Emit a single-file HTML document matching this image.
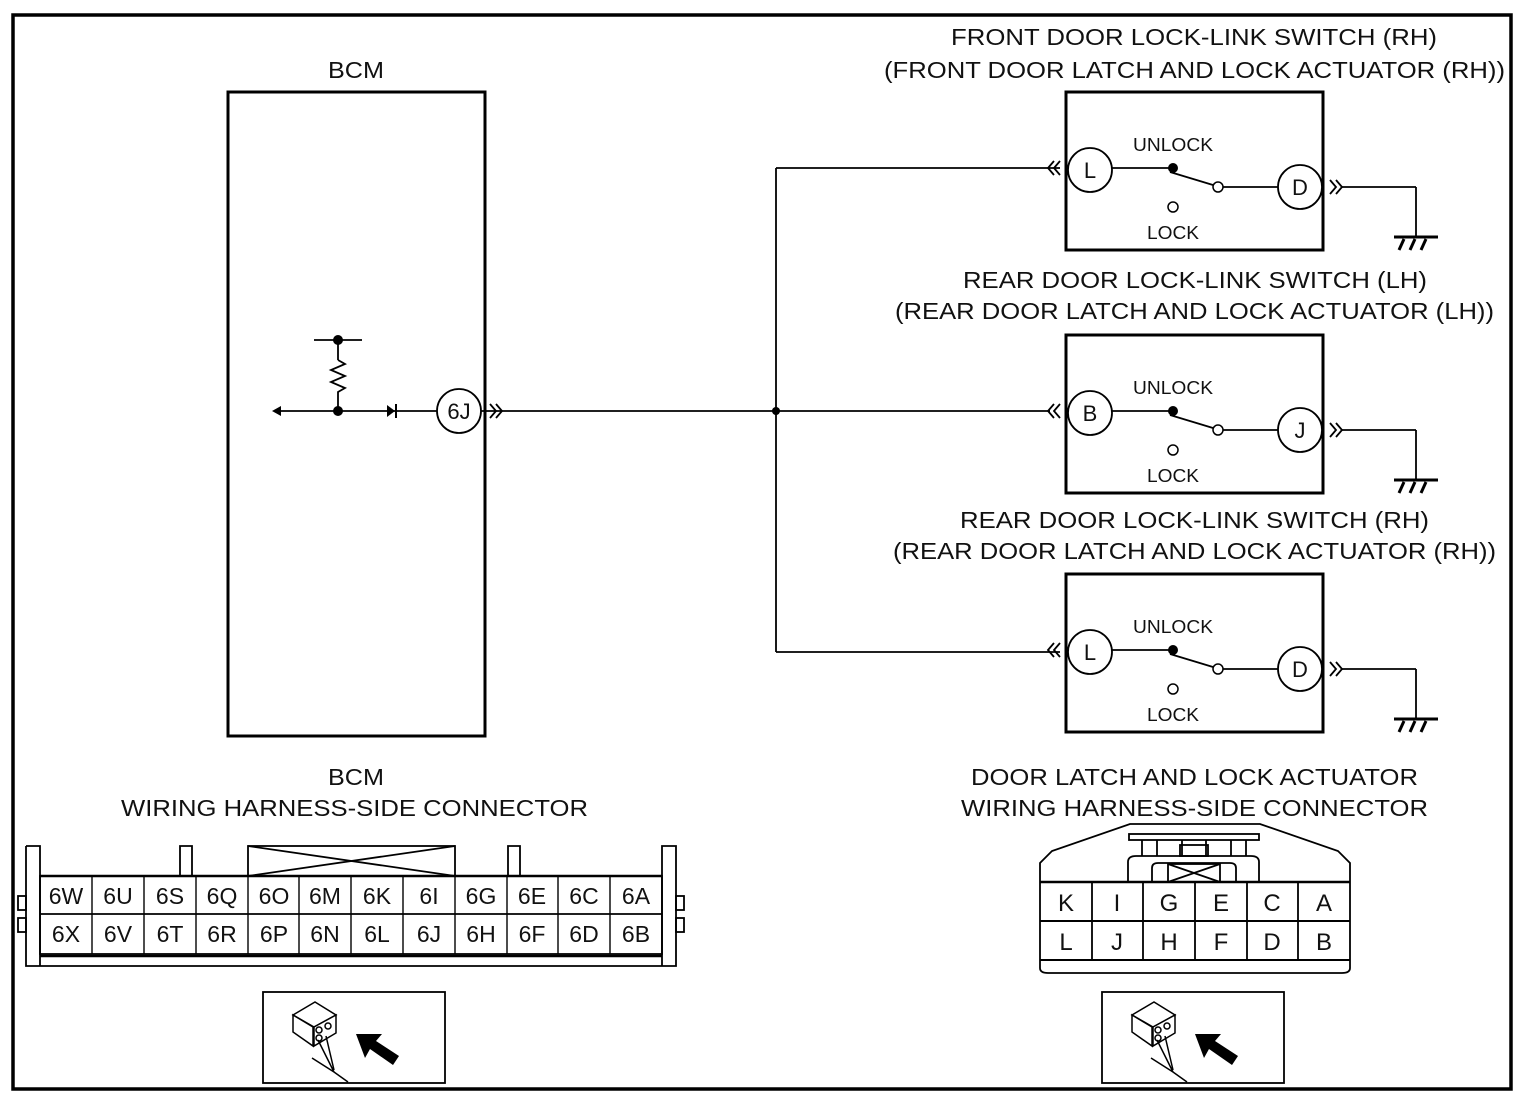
<!DOCTYPE html>
<html><head><meta charset="utf-8"><style>
html,body{margin:0;padding:0;background:#fff}
svg{display:block}
text{font-family:"Liberation Sans",Arial,sans-serif;fill:#111}
</style></head><body>
<svg width="1526" height="1102" viewBox="0 0 1526 1102" xmlns="http://www.w3.org/2000/svg">
<rect x="13" y="15" width="1498" height="1074" fill="none" stroke="#000" stroke-width="3.5"/>

<!-- BCM -->
<text x="328" y="78" font-size="23" textLength="56" lengthAdjust="spacingAndGlyphs">BCM</text>
<rect x="228" y="92" width="257" height="644" fill="none" stroke="#000" stroke-width="3"/>
<g stroke="#000" stroke-width="1.8" fill="none">
<line x1="278" y1="411" x2="437" y2="411"/>
<line x1="338" y1="340" x2="338" y2="360"/>
<polyline points="338,360 345,364 331,370 345,376 331,382 345,388 338,392 338,411"/>
<line x1="314" y1="340" x2="362" y2="340"/>
<line x1="481" y1="411" x2="1050" y2="411"/>
<line x1="776" y1="168" x2="776" y2="652"/>
<line x1="776" y1="168" x2="1060" y2="168"/>
<line x1="776" y1="652" x2="1060" y2="652"/>
<path d="M490,404 l6,7 l-6,7 M496,404 l6,7 l-6,7"/>
</g>
<polygon points="272,411 281,406 281,416" fill="#000"/>
<circle cx="338" cy="340" r="5" fill="#000"/>
<circle cx="338" cy="411" r="5" fill="#000"/>
<polygon points="387,405 395,411 387,417" fill="#000"/>
<line x1="396" y1="404" x2="396" y2="418" stroke="#000" stroke-width="2"/>
<circle cx="459" cy="411" r="22" fill="#fff" stroke="#000" stroke-width="1.8"/>
<text x="459" y="419" font-size="22" text-anchor="middle">6J</text>
<circle cx="776" cy="411" r="4" fill="#000"/>

<!-- switch boxes -->
<g>
<rect x="1066" y="92" width="257" height="158" fill="none" stroke="#000" stroke-width="3"/>
<g stroke="#000" stroke-width="1.8" fill="none">
<path d="M1054,161 l-6,7 l6,7 M1060,161 l-6,7 l6,7"/>
<line x1="1112" y1="168" x2="1173" y2="168"/>
<line x1="1170" y1="172" x2="1213" y2="185"/>
<line x1="1223" y1="187" x2="1278" y2="187"/>
<path d="M1330,180 l6,7 l-6,7 M1336,180 l6,7 l-6,7"/>
<line x1="1342" y1="187" x2="1416" y2="187"/>
<line x1="1416" y1="187" x2="1416" y2="237"/>
</g>
<circle cx="1090" cy="170" r="22" fill="#fff" stroke="#000" stroke-width="1.8"/>
<text x="1090" y="178" font-size="22" text-anchor="middle">L</text>
<circle cx="1173" cy="168" r="5" fill="#000"/>
<circle cx="1218" cy="187" r="5" fill="#fff" stroke="#000" stroke-width="1.5"/>
<circle cx="1173" cy="207" r="5" fill="#fff" stroke="#000" stroke-width="1.5"/>
<circle cx="1300" cy="187" r="22" fill="#fff" stroke="#000" stroke-width="1.8"/>
<text x="1300" y="195" font-size="22" text-anchor="middle">D</text>
<text x="1133" y="151" font-size="18" textLength="80" lengthAdjust="spacingAndGlyphs">UNLOCK</text>
<text x="1147" y="239" font-size="18" textLength="52" lengthAdjust="spacingAndGlyphs">LOCK</text>
<line x1="1394" y1="237" x2="1438" y2="237" stroke="#000" stroke-width="3"/>
<path d="M1404,239 l-5,11 M1415,239 l-5,11 M1426,239 l-5,11" stroke="#000" stroke-width="3"/>
</g>
<g transform="translate(0,243)">
<rect x="1066" y="92" width="257" height="158" fill="none" stroke="#000" stroke-width="3"/>
<g stroke="#000" stroke-width="1.8" fill="none">
<path d="M1054,161 l-6,7 l6,7 M1060,161 l-6,7 l6,7"/>
<line x1="1112" y1="168" x2="1173" y2="168"/>
<line x1="1170" y1="172" x2="1213" y2="185"/>
<line x1="1223" y1="187" x2="1278" y2="187"/>
<path d="M1330,180 l6,7 l-6,7 M1336,180 l6,7 l-6,7"/>
<line x1="1342" y1="187" x2="1416" y2="187"/>
<line x1="1416" y1="187" x2="1416" y2="237"/>
</g>
<circle cx="1090" cy="170" r="22" fill="#fff" stroke="#000" stroke-width="1.8"/>
<text x="1090" y="178" font-size="22" text-anchor="middle">B</text>
<circle cx="1173" cy="168" r="5" fill="#000"/>
<circle cx="1218" cy="187" r="5" fill="#fff" stroke="#000" stroke-width="1.5"/>
<circle cx="1173" cy="207" r="5" fill="#fff" stroke="#000" stroke-width="1.5"/>
<circle cx="1300" cy="187" r="22" fill="#fff" stroke="#000" stroke-width="1.8"/>
<text x="1300" y="195" font-size="22" text-anchor="middle">J</text>
<text x="1133" y="151" font-size="18" textLength="80" lengthAdjust="spacingAndGlyphs">UNLOCK</text>
<text x="1147" y="239" font-size="18" textLength="52" lengthAdjust="spacingAndGlyphs">LOCK</text>
<line x1="1394" y1="237" x2="1438" y2="237" stroke="#000" stroke-width="3"/>
<path d="M1404,239 l-5,11 M1415,239 l-5,11 M1426,239 l-5,11" stroke="#000" stroke-width="3"/>
</g>
<g transform="translate(0,482)">
<rect x="1066" y="92" width="257" height="158" fill="none" stroke="#000" stroke-width="3"/>
<g stroke="#000" stroke-width="1.8" fill="none">
<path d="M1054,161 l-6,7 l6,7 M1060,161 l-6,7 l6,7"/>
<line x1="1112" y1="168" x2="1173" y2="168"/>
<line x1="1170" y1="172" x2="1213" y2="185"/>
<line x1="1223" y1="187" x2="1278" y2="187"/>
<path d="M1330,180 l6,7 l-6,7 M1336,180 l6,7 l-6,7"/>
<line x1="1342" y1="187" x2="1416" y2="187"/>
<line x1="1416" y1="187" x2="1416" y2="237"/>
</g>
<circle cx="1090" cy="170" r="22" fill="#fff" stroke="#000" stroke-width="1.8"/>
<text x="1090" y="178" font-size="22" text-anchor="middle">L</text>
<circle cx="1173" cy="168" r="5" fill="#000"/>
<circle cx="1218" cy="187" r="5" fill="#fff" stroke="#000" stroke-width="1.5"/>
<circle cx="1173" cy="207" r="5" fill="#fff" stroke="#000" stroke-width="1.5"/>
<circle cx="1300" cy="187" r="22" fill="#fff" stroke="#000" stroke-width="1.8"/>
<text x="1300" y="195" font-size="22" text-anchor="middle">D</text>
<text x="1133" y="151" font-size="18" textLength="80" lengthAdjust="spacingAndGlyphs">UNLOCK</text>
<text x="1147" y="239" font-size="18" textLength="52" lengthAdjust="spacingAndGlyphs">LOCK</text>
<line x1="1394" y1="237" x2="1438" y2="237" stroke="#000" stroke-width="3"/>
<path d="M1404,239 l-5,11 M1415,239 l-5,11 M1426,239 l-5,11" stroke="#000" stroke-width="3"/>
</g>

<!-- titles -->
<g font-size="23" lengthAdjust="spacingAndGlyphs">
<text x="951" y="45" textLength="486" lengthAdjust="spacingAndGlyphs">FRONT DOOR LOCK-LINK SWITCH (RH)</text>
<text x="884" y="78" textLength="621" lengthAdjust="spacingAndGlyphs">(FRONT DOOR LATCH AND LOCK ACTUATOR (RH))</text>
<text x="963" y="288" textLength="464" lengthAdjust="spacingAndGlyphs">REAR DOOR LOCK-LINK SWITCH (LH)</text>
<text x="895" y="319" textLength="599" lengthAdjust="spacingAndGlyphs">(REAR DOOR LATCH AND LOCK ACTUATOR (LH))</text>
<text x="960" y="528" textLength="469" lengthAdjust="spacingAndGlyphs">REAR DOOR LOCK-LINK SWITCH (RH)</text>
<text x="893" y="559" textLength="603" lengthAdjust="spacingAndGlyphs">(REAR DOOR LATCH AND LOCK ACTUATOR (RH))</text>
<text x="328" y="785" textLength="56" lengthAdjust="spacingAndGlyphs">BCM</text>
<text x="121" y="816" textLength="467" lengthAdjust="spacingAndGlyphs">WIRING HARNESS-SIDE CONNECTOR</text>
<text x="971" y="785" textLength="447" lengthAdjust="spacingAndGlyphs">DOOR LATCH AND LOCK ACTUATOR</text>
<text x="961" y="816" textLength="467" lengthAdjust="spacingAndGlyphs">WIRING HARNESS-SIDE CONNECTOR</text>
</g>

<!-- BCM connector -->
<g stroke="#000" stroke-width="1.8" fill="none">
<path d="M26,846 h14 v120 M26,846 v120 h650 v-120 h-14 v120"/>
<line x1="40" y1="956" x2="662" y2="956" stroke-width="2.5"/>
<path d="M180,876 v-30 h12 v30 M508,876 v-30 h12 v30"/>
<rect x="248" y="846" width="207" height="30"/>
<path d="M248,846 L455,876 M455,846 L248,876"/>
<rect x="40" y="876" width="622" height="78"/>
<line x1="40" y1="876" x2="662" y2="876" stroke-width="2.5"/>
<line x1="40" y1="914" x2="662" y2="914"/>
<rect x="18" y="896" width="8" height="14"/><rect x="18" y="918" width="8" height="14"/>
<rect x="676" y="896" width="8" height="14"/><rect x="676" y="918" width="8" height="14"/>
</g>
<g stroke="#000" stroke-width="1.4">
<line x1="92" y1="876" x2="92" y2="954"/><line x1="144" y1="876" x2="144" y2="954"/>
<line x1="196" y1="876" x2="196" y2="954"/><line x1="248" y1="876" x2="248" y2="954"/>
<line x1="299" y1="876" x2="299" y2="954"/><line x1="351" y1="876" x2="351" y2="954"/>
<line x1="403" y1="876" x2="403" y2="954"/><line x1="455" y1="876" x2="455" y2="954"/>
<line x1="507" y1="876" x2="507" y2="954"/><line x1="558" y1="876" x2="558" y2="954"/>
<line x1="610" y1="876" x2="610" y2="954"/>
</g>
<g font-size="23" text-anchor="middle">
<text x="66" y="904">6W</text><text x="118" y="904">6U</text><text x="170" y="904">6S</text><text x="222" y="904">6Q</text><text x="274" y="904">6O</text><text x="325" y="904">6M</text><text x="377" y="904">6K</text><text x="429" y="904">6I</text><text x="481" y="904">6G</text><text x="532" y="904">6E</text><text x="584" y="904">6C</text><text x="636" y="904">6A</text>
<text x="66" y="942">6X</text><text x="118" y="942">6V</text><text x="170" y="942">6T</text><text x="222" y="942">6R</text><text x="274" y="942">6P</text><text x="325" y="942">6N</text><text x="377" y="942">6L</text><text x="429" y="942">6J</text><text x="481" y="942">6H</text><text x="532" y="942">6F</text><text x="584" y="942">6D</text><text x="636" y="942">6B</text>
</g>

<!-- right connector -->
<g stroke="#000" stroke-width="1.8" fill="none">
<path d="M1040,960 v8 q0,5 8,5 h294 q8,0 8,-5 v-105 l-12,-12 l-78,-27 h-130 l-78,27 l-12,12 z"/>
<rect x="1129" y="834" width="130" height="6"/>
<path d="M1128,882 v-20 q0,-6 8,-6 h115 q8,0 8,6 v20"/>
<path d="M1152,882 v-14 q0,-5 6,-5 h72 q6,0 6,5 v14"/>
<rect x="1168" y="864" width="52" height="18"/>
<path d="M1168,864 L1220,882 M1220,864 L1168,882"/>
<path d="M1142,840 v16 M1157,840 v16 M1182,840 v16 M1206,840 v16 M1231,840 v16 M1246,840 v16"/>
<rect x="1180" y="845" width="28" height="11"/>
<line x1="1040" y1="882" x2="1350" y2="882" stroke-width="2.5"/>
<line x1="1040" y1="921" x2="1350" y2="921" stroke-width="2"/>
<line x1="1040" y1="960" x2="1350" y2="960" stroke-width="2"/>
<path d="M1092,882 v78 M1143,882 v78 M1195,882 v78 M1247,882 v78 M1298,882 v78"/>
</g>
<g font-size="24" text-anchor="middle">
<text x="1066" y="911">K</text><text x="1117" y="911">I</text><text x="1169" y="911">G</text><text x="1221" y="911">E</text><text x="1272" y="911">C</text><text x="1324" y="911">A</text>
<text x="1066" y="950">L</text><text x="1117" y="950">J</text><text x="1169" y="950">H</text><text x="1221" y="950">F</text><text x="1272" y="950">D</text><text x="1324" y="950">B</text>
</g>

<!-- icons -->
<g>
<rect x="263" y="992" width="182" height="91" fill="none" stroke="#000" stroke-width="1.8"/>
<g stroke="#000" stroke-width="1.5" fill="#fff">
<path d="M293,1015 l22,-13 l21,13 l-22,12 z"/>
<path d="M293,1015 v17 l20,14 v-19 z"/>
<path d="M314,1027 l22,-12 v18 l-22,13 z"/>
<circle cx="319" cy="1030" r="3"/><circle cx="328" cy="1026" r="3"/><circle cx="319" cy="1038" r="3"/>
<path d="M318,1040 l16,32 M326,1036 l8,34 M312,1058 l22,14 l14,10" fill="none"/>
</g>
<polygon points="356,1034 382,1034 376,1041 399,1056 393,1065 370,1049 365,1058" fill="#000"/>
</g>
<g transform="translate(839,0)">
<rect x="263" y="992" width="182" height="91" fill="none" stroke="#000" stroke-width="1.8"/>
<g stroke="#000" stroke-width="1.5" fill="#fff">
<path d="M293,1015 l22,-13 l21,13 l-22,12 z"/>
<path d="M293,1015 v17 l20,14 v-19 z"/>
<path d="M314,1027 l22,-12 v18 l-22,13 z"/>
<circle cx="319" cy="1030" r="3"/><circle cx="328" cy="1026" r="3"/><circle cx="319" cy="1038" r="3"/>
<path d="M318,1040 l16,32 M326,1036 l8,34 M312,1058 l22,14 l14,10" fill="none"/>
</g>
<polygon points="356,1034 382,1034 376,1041 399,1056 393,1065 370,1049 365,1058" fill="#000"/>
</g>
</svg>
</body></html>
